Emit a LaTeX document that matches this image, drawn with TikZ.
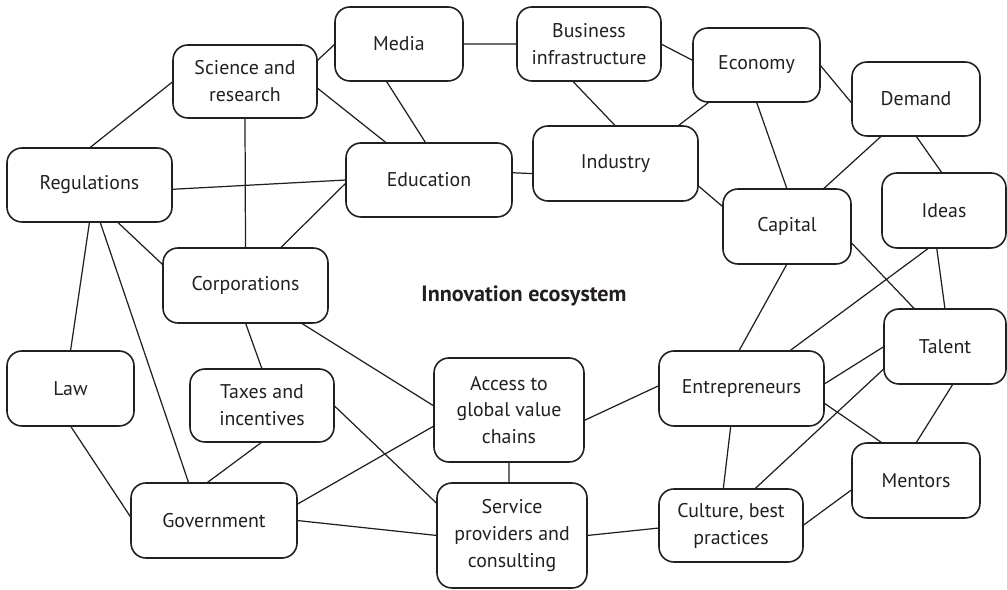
\documentclass[tikz,border=0pt]{standalone}
\usepackage{fontspec}
\setmainfont{PT Sans}
\usepackage{tikz}
\usetikzlibrary{positioning,calc}
\definecolor{inkgray}{HTML}{231F20}
\newdimen\pxunit
\pxunit=0.02cm
\tikzset{
	innovation ecosystem/.style={
		x=\pxunit,y=-\pxunit,
		font=\fontsize{11.3}{15.3}\selectfont,
		every node/.style={text=inkgray},
		relation edge/.style={
			draw=inkgray,
			line width=0.7pt
		}
	},
	component/.style 2 args={% width, height in pixels
		rectangle,
		draw=inkgray,
		line width=0.9pt,
		rounded corners=8.5pt,
		align=center,
		inner sep=2pt,
		outer sep=0pt,
		minimum width=#1\pxunit,
		minimum height=#2\pxunit
	},
	title label/.style={
		font=\fontsize{12.6}{15}\selectfont\bfseries
	}
}

\begin{document}
\begin{tikzpicture}[innovation ecosystem]
	\useasboundingbox (0,0) rectangle (1007,590);
	\node[component={144}{73}] (sci) at (245,81.5) {Science and\\research};
	\node[component={128}{74}] (media) at (399,44) {Media};
	\node[component={144}{74}] (infra) at (589,44) {Business\\infrastructure};
	\node[component={127}{74}] (econ) at (756.5,65) {Economy};
	\node[component={128}{74}] (demand) at (916,99) {Demand};
	\node[component={165}{74}] (regul) at (89.5,185) {Regulations};
	\node[component={166}{74}] (educ) at (429,180) {Education};
	\node[component={165}{75}] (industry) at (615.5,163.5) {Industry};
	\node[component={128}{75}] (capital) at (787,226.5) {Capital};
	\node[component={124}{75}] (ideas) at (944,210.5) {Ideas};
	\node[component={165}{75}] (corp) at (245.5,285.5) {Corporations};
	\node[component={127}{75}] (law) at (70.5,388.5) {Law};
	\node[component={144}{73}] (taxes) at (262,405.5) {Taxes and\\incentives};
	\node[component={150}{104}] (access) at (509,410) {Access to\\global value\\chains};
	\node[component={165}{75}] (entre) at (741.5,388.5) {Entrepreneurs};
	\node[component={122}{75}] (talent) at (945,346.5) {Talent};
	\node[component={128}{75}] (mentors) at (916,480.5) {Mentors};
	\node[component={166}{75}] (gov) at (214,520.5) {Government};
	\node[component={150}{105}] (service) at (512,535.5) {Service\\providers and\\consulting};
	\node[component={144}{73}] (culture) at (731,525.5) {Culture, best\\practices};
	\node[title label] (title) at (524,296) {Innovation ecosystem};

	\path[relation edge]
		(sci.16) -- (media.west)
		(regul.north) -- (sci.west)
		(sci.-5) -- (educ.139)
		(sci.south) -- (corp.north)
		(media.east) -- (infra.west)
		(media.-109) -- (educ.95)
		(infra.east) -- (econ.176)
		(infra.-114) -- (industry.north)
		(econ.-142) -- (industry.31)
		(econ.south) -- (capital.north)
		(econ.east) -- (demand.184)
		(educ.5) -- (industry.187)
		(regul.-3) -- (educ.west)
		(corp.47) -- (educ.182)
		(industry.-15) -- (capital.163)
		(demand.-133) -- (capital.46)
		(demand.south) -- (ideas.93)
		(capital.south) -- (entre.94)
		(capital.-14) -- (talent.129)
		(ideas.-112) -- (entre.38)
		(ideas.-101) -- (talent.north)
		(regul.-53) -- (corp.166)
		(regul.south) -- (law.north)
		(regul.-74) -- (gov.124)
		(corp.south) -- (taxes.north)
		(corp.-34) -- (access.177)
		(law.south) -- (gov.178)
		(taxes.south) -- (gov.101)
		(taxes.east) -- (service.157)
		(gov.11) -- (access.192)
		(gov.east) -- (service.west)
		(access.south) -- (access.south |- service.north)
		(access.-8) -- (entre.178)
		(entre.3) -- (talent.west)
		(entre.-10) -- (mentors.132)
		(entre.-106) -- (culture.102)
		(talent.-160) -- (culture.57)
		(talent.-78) -- (mentors.north)
		(culture.east) -- (mentors.188)
		(service.east) -- (culture.182);
\end{tikzpicture}
\end{document}
